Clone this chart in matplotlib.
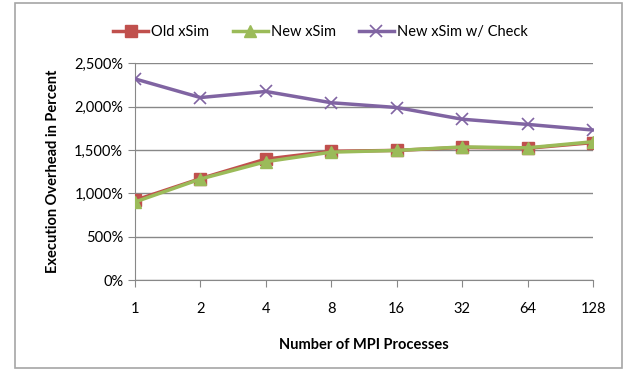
import matplotlib
matplotlib.use('Agg')
import matplotlib.pyplot as plt
from matplotlib.patches import Rectangle
from matplotlib.ticker import FuncFormatter

# chart data
processes = ['1', '2', '4', '8', '16', '32', '64', '128']
old_xsim = [920, 1170, 1395, 1485, 1495, 1530, 1520, 1585]
new_xsim = [900, 1165, 1365, 1475, 1495, 1535, 1525, 1595]
new_xsim_check = [2320, 2105, 2175, 2045, 1990, 1855, 1795, 1730]

plt.rcParams['font.family'] = ['Lato', 'DejaVu Sans']

fig = plt.figure(figsize=(6.28, 3.7), dpi=100)
# outer chart frame like the spreadsheet export
fig.patches.append(Rectangle((15 / 628, 2 / 370), 607 / 628, 365 / 370, transform=fig.transFigure,
                             fill=False, edgecolor='#a6a6a6', linewidth=1.2))

ax = fig.add_axes([135 / 628, 1 - 280 / 370, 458 / 628, 216.7 / 370])
x = range(len(processes))

ax.plot(x, old_xsim, color='#c0504d', linewidth=2.5, marker='s', markersize=8, label='Old xSim', zorder=3)
ax.plot(x, new_xsim, color='#9bbb59', linewidth=2.5, marker='^', markersize=8, label='New xSim', zorder=4)
ax.plot(x, new_xsim_check, color='#8064a2', linewidth=2.5, marker='x', markersize=8, markeredgewidth=1.2,
        label='New xSim w/ Check', zorder=3)

ax.set_xlim(0, len(processes) - 1)
ax.set_ylim(0, 2500)
ax.set_yticks(range(0, 2501, 500))
ax.yaxis.set_major_formatter(FuncFormatter(lambda v, p: f'{int(v):,}%'))
ax.set_xticks(list(x))
ax.set_xticklabels(processes)

ax.grid(axis='y', color='#888888', linewidth=1)
ax.set_axisbelow(True)
for s in ['top', 'right']:
    ax.spines[s].set_visible(False)
for s in ['left', 'bottom']:
    ax.spines[s].set_color('#888888')
ax.tick_params(axis='both', colors='#888888', labelcolor='black', labelsize=10.5, length=5)
ax.tick_params(axis='x', pad=11)

ax.set_xlabel('Number of MPI Processes', fontsize=10.5, fontweight='bold', labelpad=16)
ax.set_ylabel('Execution Overhead in Percent', fontsize=10.5, fontweight='bold', labelpad=10)

ax.legend(loc='lower center', bbox_to_anchor=(0.405, 1.05), ncol=3, frameon=False, fontsize=10.5,
          handlelength=2.4, columnspacing=1.6, handletextpad=0.2)

fig.savefig('out.png', dpi=100)
